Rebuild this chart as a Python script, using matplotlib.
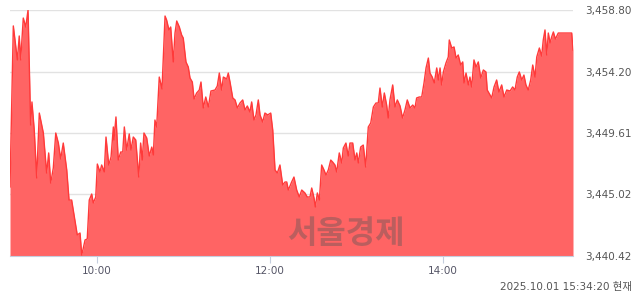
import matplotlib
matplotlib.use("Agg")
import matplotlib.pyplot as plt

# minutes after 09:00 and index value
minutes = [0.0, 2.3, 5.1, 6.4, 7.4, 9.2, 10.9, 12.5, 14.3, 15.2, 16.8, 18.5, 20.3, 23.1, 25.4, 26.8, 28.2, 30.0,
           31.7, 33.5, 35.1, 36.9, 39.3, 40.9, 42.7, 43.8, 46.6, 48.5, 49.7, 52.0, 53.5, 54.9, 56.6, 57.7, 59.4,
           60.5, 62.3, 63.5, 65.3, 66.5, 68.4, 70.0, 71.6, 72.0, 73.4, 75.0, 76.7, 78.1, 79.2, 80.8, 82.6, 83.8,
           85.4, 87.1, 89.2, 90.5, 91.6, 92.8, 94.7, 96.5, 98.2, 99.3, 100.4, 101.6, 103.4, 105.3, 107.4, 108.5,
           110.1, 111.3, 113.1, 114.3, 115.5, 117.3, 118.9, 120.0, 121.9, 123.5, 124.7, 126.3, 127.5, 129.3,
           131.1, 132.3, 133.9, 135.6, 137.4, 139.2, 142.0, 143.6, 145.0, 146.6, 147.8, 150.1, 151.2, 152.4,
           154.3, 155.9, 157.5, 159.3, 161.2, 162.8, 164.4, 166.2, 167.4, 169.0, 170.4, 172.0, 173.2, 175.0,
           176.6, 178.5, 180.6, 182.0, 183.6, 185.2, 187.0, 188.9, 190.5, 191.7, 192.8, 195.1, 196.7, 198.6,
           200.4, 202.1, 204.3, 205.9, 207.8, 209.0, 210.6, 211.5, 212.9, 214.3, 215.9, 217.5, 218.9, 220.5,
           222.2, 223.5, 225.1, 226.3, 228.1, 229.8, 230.9, 232.7, 234.3, 235.5, 237.4, 239.0, 240.2, 241.3,
           242.9, 244.7, 246.4, 248.2, 249.9, 251.7, 253.5, 255.1, 256.3, 257.9, 259.3, 260.9, 262.0, 263.2,
           265.1, 266.7, 268.3, 270.2, 271.9, 273.6, 275.2, 277.1, 279.0, 280.5, 281.7, 283.5, 285.2, 286.8,
           288.2, 289.8, 290.9, 292.5, 293.9, 295.6, 296.7, 297.9, 299.0, 300.2, 302.0, 303.6, 304.3, 306.0,
           307.6, 309.0, 310.5, 312.2, 313.6, 314.5, 315.9, 317.5, 318.6, 319.8, 321.4, 322.8, 324.4, 326.1,
           327.9, 329.7, 330.6, 332.5, 333.7, 335.3, 337.1, 338.7, 340.6, 342.2, 344.1, 346.4, 348.2, 349.8,
           351.4, 352.8, 354.5, 356.0, 357.4, 359.0, 360.7, 362.1, 363.7, 364.9, 366.7, 368.3, 369.4, 370.6,
           371.8, 372.9, 374.1, 375.2, 376.4, 377.8, 379.8, 389.1, 390.0]

values = [3445.58, 3457.61, 3455.07, 3456.86, 3455.07, 3458.20, 3457.53, 3458.80, 3450.21, 3451.93, 3449.83,
          3446.25, 3451.10, 3449.61, 3446.62, 3448.12, 3445.87, 3447.00, 3449.61, 3448.86, 3447.67, 3448.86,
          3446.85, 3444.60, 3444.60, 3443.86, 3441.99, 3442.14, 3440.49, 3441.62, 3441.69, 3444.60, 3445.05,
          3444.38, 3444.83, 3447.29, 3446.70, 3447.22, 3446.70, 3449.31, 3447.22, 3447.82, 3450.06, 3449.09,
          3450.81, 3447.59, 3448.19, 3448.19, 3450.06, 3448.34, 3449.54, 3448.34, 3449.31, 3449.09, 3446.32,
          3448.86, 3447.59, 3449.61, 3449.24, 3447.89, 3448.56, 3447.97, 3450.58, 3450.06, 3453.79, 3452.90,
          3458.35, 3458.05, 3457.31, 3457.53, 3454.92, 3457.08, 3457.98, 3457.53, 3456.93, 3456.71, 3454.92,
          3454.54, 3453.72, 3453.42, 3452.15, 3452.60, 3452.82, 3453.42, 3451.48, 3452.30, 3451.55, 3452.75,
          3452.82, 3453.12, 3454.09, 3452.82, 3453.79, 3453.65, 3454.09, 3453.42, 3452.23, 3452.08, 3451.48,
          3451.85, 3452.08, 3451.33, 3451.63, 3451.18, 3451.93, 3450.58, 3450.96, 3452.08, 3450.96, 3450.43,
          3451.10, 3450.96, 3451.10, 3449.83, 3446.85, 3446.62, 3447.22, 3445.73, 3445.95, 3445.95, 3445.35,
          3445.95, 3446.32, 3445.35, 3444.83, 3445.35, 3445.13, 3444.83, 3444.83, 3445.50, 3444.75, 3444.08,
          3445.13, 3444.60, 3447.22, 3446.85, 3446.47, 3446.85, 3447.59, 3447.44, 3447.22, 3446.70, 3448.12,
          3447.37, 3448.49, 3448.86, 3447.89, 3448.86, 3448.86, 3447.59, 3448.12, 3447.37, 3448.56, 3448.71,
          3447.07, 3450.06, 3450.36, 3451.55, 3451.85, 3451.85, 3452.97, 3451.55, 3452.60, 3451.70, 3450.73,
          3452.08, 3453.20, 3451.55, 3452.08, 3451.63, 3450.73, 3451.33, 3452.08, 3451.48, 3451.70, 3451.48,
          3452.23, 3452.30, 3452.30, 3453.35, 3454.47, 3455.21, 3454.09, 3453.79, 3453.35, 3454.47, 3453.57,
          3454.47, 3453.20, 3454.17, 3454.84, 3455.29, 3456.56, 3455.96, 3456.04, 3455.21, 3455.44, 3454.69,
          3454.92, 3453.35, 3454.09, 3453.20, 3453.79, 3453.05, 3455.07, 3454.54, 3454.92, 3453.72, 3454.32,
          3454.17, 3452.82, 3452.45, 3452.23, 3453.05, 3453.57, 3452.67, 3453.20, 3452.30, 3452.82, 3452.75,
          3453.05, 3452.82, 3453.79, 3454.17, 3453.57, 3453.94, 3453.20, 3452.82, 3453.57, 3454.69, 3453.79,
          3455.29, 3455.96, 3455.36, 3456.56, 3457.31, 3455.44, 3457.08, 3456.34, 3456.78, 3457.16, 3456.63,
          3457.08, 3457.08, 3455.81]

y_ticks = [3440.42, 3445.02, 3449.61, 3454.20, 3458.80]
y_labels = ["3,440.42", "3,445.02", "3,449.61", "3,454.20", "3,458.80"]
x_ticks = [60, 180, 300]
x_labels = ["10:00", "12:00", "14:00"]
stamp = "2025.10.01 15:34:20 현재"
watermark = "서울경제"

fig = plt.figure(figsize=(6.4, 2.94), dpi=100)
ax = fig.add_axes([10 / 640, 38 / 294, 563 / 640, 246 / 294])

ax.set_axisbelow(True)
ax.grid(axis="y", color="#e2e2e2", linewidth=1)
ax.fill_between(minutes, values, y_ticks[0], color="#ff6464", linewidth=0, zorder=2)
ax.plot(minutes, values, color="#ff3a3a", linewidth=1, zorder=3)

ax.set_xlim(0, 390)
ax.set_ylim(y_ticks[0], y_ticks[-1])
ax.set_xticks(x_ticks)
ax.set_xticklabels(x_labels, fontsize=7.5, color="#555566")
ax.set_yticks(y_ticks)
ax.set_yticklabels(y_labels, fontsize=7.5, color="#555555", ha="right")
ax.yaxis.tick_right()
ax.tick_params(axis="y", length=0, pad=42.5)
ax.tick_params(axis="x", length=5, color="#c5cede", pad=2)

for s in ["top", "left", "right"]:
    ax.spines[s].set_visible(False)
ax.spines["bottom"].set_color("#c5cede")

ax.text(0.597, 0.09, watermark, transform=ax.transAxes, ha="center", va="center",
        fontsize=23, fontweight="bold", color="#555555", alpha=0.4,
        family=["Noto Sans CJK KR"], zorder=4)

fig.text(632 / 640, 1 - 287 / 294, stamp, ha="right", va="center", fontsize=7.5,
         color="#555555", family=["DejaVu Sans", "Noto Sans CJK KR"])

fig.savefig("out.png", dpi=100)
